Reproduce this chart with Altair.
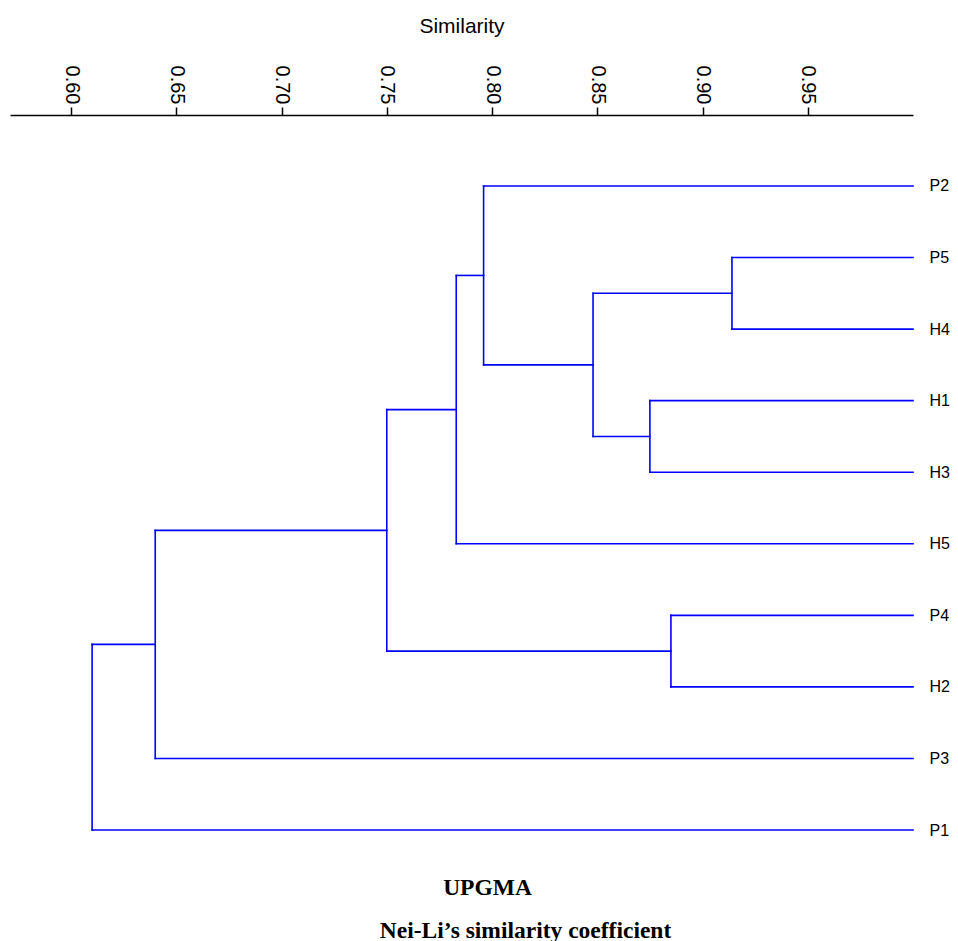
import altair as alt
import pandas as pd

# ---- data ----
leaves = ["P2", "P5", "H4", "H1", "H3", "H5", "P4", "H2", "P3", "P1"]
leaf_similarity = 1.0
merge_names = ["m1", "m2", "m3", "m4", "m5", "m6", "m7", "m8", "m9"]
merge_left = ["P5", "H1", "P4", "m1", "P2", "m5", "m6", "m7", "m8"]
merge_right = ["H4", "H3", "H2", "m2", "m4", "H5", "m3", "P3", "P1"]
merge_similarity = [0.914, 0.875, 0.885, 0.848, 0.796, 0.783, 0.750, 0.640, 0.610]
tick_values = [0.60, 0.65, 0.70, 0.75, 0.80, 0.85, 0.90, 0.95]

# ---- dendrogram layout (from the tree structure) ----
pos = {name: (leaf_similarity, i) for i, name in enumerate(leaves)}
segs = []
for name, a, b, s in zip(merge_names, merge_left, merge_right, merge_similarity):
    xa, ya = pos[a]
    xb, yb = pos[b]
    segs.append({"x": s, "x2": s, "y": ya, "y2": yb})
    segs.append({"x": s, "x2": xa, "y": ya, "y2": ya})
    segs.append({"x": s, "x2": xb, "y": yb, "y2": yb})
    pos[name] = (s, (ya + yb) / 2)
df = pd.DataFrame(segs)

SANS = "Liberation Sans, Arial, sans-serif"
SERIF = "Liberation Serif, Times New Roman, serif"

x_scale = alt.Scale(domain=[0.571, 1.0], nice=False, zero=False)
y_scale = alt.Scale(domain=[-0.992, 9.419], reverse=True, nice=False, zero=False)

label_expr = "[" + ",".join("'%s'" % n for n in leaves) + "][datum.value]"

tree = alt.Chart(df).mark_rule(color="#0000FF", strokeWidth=1.6, strokeCap="square").encode(
    x=alt.X("x:Q", scale=x_scale, axis=alt.Axis(
        orient="top", values=tick_values, format=".2f", labelAngle=90,
        labelFont=SANS, labelFontSize=20, labelColor="black", labelPadding=3,
        tickSize=8, tickWidth=1.5, tickColor="black",
        domainColor="black", domainWidth=1.5, grid=False,
        title="Similarity", titleFont=SANS, titleFontSize=21,
        titleFontWeight="normal", titleColor="black", titlePadding=29)),
    x2="x2:Q",
    y=alt.Y("y:Q", scale=y_scale, axis=alt.Axis(
        orient="right", values=list(range(len(leaves))), labelExpr=label_expr,
        labelFont=SANS, labelFontSize=16, labelColor="black", labelPadding=16,
        labelAlign="left", labelBaseline="middle",
        ticks=False, tickSize=0, domain=False, grid=False, title=None)),
    y2="y2:Q",
)

captions = alt.Chart(df).mark_rule(opacity=0).encode(
    x=alt.X("x:Q", scale=x_scale, axis=alt.Axis(
        orient="bottom", labels=False, ticks=False, domain=False, grid=False,
        title="Nei-Li\u2019s similarity coefficient", titleFont=SERIF,
        titleFontSize=23.5, titleFontWeight="bold", titleColor="black",
        titleX=515, titleY=77, titleAlign="center", titleBaseline="alphabetic")),
    x2="x2:Q",
    y=alt.Y("y:Q", scale=y_scale, axis=alt.Axis(
        orient="left", labels=False, ticks=False, domain=False, grid=False,
        title="UPGMA", titleFont=SERIF, titleFontSize=23.5,
        titleFontWeight="bold", titleColor="black", titleAngle=0,
        titleX=477, titleY=772, titleAlign="center", titleBaseline="middle")),
    y2="y2:Q",
)

chart = alt.layer(tree, captions).resolve_axis(x="independent", y="independent").properties(
    width=903, height=745,
    autosize=alt.AutoSizeParams(type="none"),
    padding={"left": 2, "top": 107, "right": 37, "bottom": 90},
    background="white",
).configure_view(stroke=None)

chart.save("out.html", embed_options={"renderer": "svg", "actions": False})
